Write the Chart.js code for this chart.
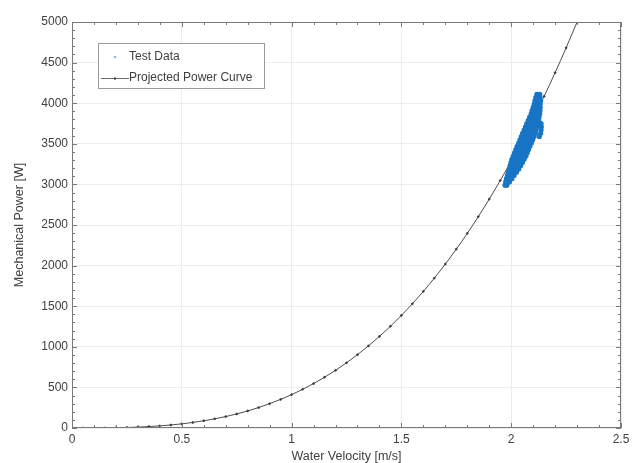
<!DOCTYPE html>
<html><head><meta charset="utf-8">
<script src="https://cdn.jsdelivr.net/npm/chart.js@4/dist/chart.umd.min.js"></script>
<style>html,body{margin:0;padding:0;background:#fff}</style>
</head><body>
<canvas id="c" width="634" height="463" style="display:block"></canvas>
<script>
// ---- data ----
const curveV = [0,0.05,0.1,0.15,0.2,0.25,0.3,0.35,0.4,0.45,0.5,0.55,0.6,0.65,0.7,0.75,0.8,0.85,0.9,0.95,1.0,1.05,1.1,1.15,1.2,1.25,1.3,1.35,1.4,1.45,1.5,1.55,1.6,1.65,1.7,1.75,1.8,1.85,1.9,1.95,2.0,2.05,2.1,2.15,2.2,2.25,2.3];
const curveP = [0,0,0,1,3,6,11,18,26,37,51,68,89,113,141,173,210,252,300,352,411,476,547,625,710,803,903,1011,1128,1253,1387,1530,1683,1846,2019,2203,2397,2602,2819,3047,3288,3541,3806,4085,4376,4682,5000];

const testV = [
 1.972,1.980,
 1.975,1.984,1.992,
 1.978,1.987,1.995,2.003,
 1.983,1.993,2.002,2.013,
 1.987,1.998,2.008,2.017,2.024,
 1.992,2.003,2.013,2.024,2.034,
 1.995,2.007,2.019,2.031,2.043,
 1.999,2.012,2.025,2.038,2.051,
 2.003,2.017,2.031,2.045,2.059,
 2.009,2.023,2.038,2.053,2.067,
 2.015,2.029,2.044,2.059,2.073,
 2.021,2.035,2.050,2.065,2.079,
 2.027,2.041,2.056,2.071,2.085,
 2.034,2.048,2.063,2.078,2.092,
 2.040,2.054,2.069,2.084,2.098,
 2.046,2.060,2.075,2.090,2.104,2.128,
 2.052,2.066,2.081,2.096,2.110,2.134,
 2.059,2.072,2.086,2.100,2.113,2.136,
 2.065,2.078,2.091,2.104,2.117,2.137,
 2.071,2.084,2.096,2.109,2.121,2.136,
 2.078,2.090,2.101,2.113,2.125,
 2.084,2.095,2.105,2.116,2.127,
 2.091,2.101,2.110,2.120,2.130,
 2.095,2.104,2.113,2.122,2.131,
 2.100,2.108,2.116,2.124,2.132,
 2.105,2.114,2.123,2.132,
 2.108,2.117,2.126,2.134,
 2.112,2.119,2.131,
 2.117,2.130
];
const testP = [
 2990,2990,
 3030,3030,3030,
 3070,3070,3070,3070,
 3110,3110,3110,3110,
 3150,3150,3150,3150,3150,
 3190,3190,3190,3190,3190,
 3230,3230,3230,3230,3230,
 3270,3270,3270,3270,3270,
 3310,3310,3310,3310,3310,
 3350,3350,3350,3350,3350,
 3390,3390,3390,3390,3390,
 3430,3430,3430,3430,3430,
 3470,3470,3470,3470,3470,
 3510,3510,3510,3510,3510,
 3550,3550,3550,3550,3550,
 3590,3590,3590,3590,3590,3590,
 3630,3630,3630,3630,3630,3630,
 3670,3670,3670,3670,3670,3670,
 3710,3710,3710,3710,3710,3710,
 3750,3750,3750,3750,3750,3750,
 3790,3790,3790,3790,3790,
 3830,3830,3830,3830,3830,
 3870,3870,3870,3870,3870,
 3910,3910,3910,3910,3910,
 3950,3950,3950,3950,3950,
 3990,3990,3990,3990,
 4030,4030,4030,4030,
 4070,4070,4070,
 4110,4110
];

const xTicks = [0,0.5,1,1.5,2,2.5];
const yTicks = [0,500,1000,1500,2000,2500,3000,3500,4000,4500,5000];
const xMinorStep = 0.1;
const yMinorStep = 100;
const legendLabels = ['Test Data','Projected Power Curve'];
const xTitle = 'Water Velocity [m/s]';
const yTitle = 'Mechanical Power [W]';

const FONT = 'Liberation Sans, Arial, sans-serif';
const TEXT = '#404040';
const AXIS = '#7a7a7a';
const GRID = '#ececec';
const BLUE = '#1874c4';

const boxTicks = {
  id:'boxTicks',
  afterDatasetsDraw(chart){
    const {ctx, chartArea:a, scales:{x,y}} = chart;
    ctx.save();
    ctx.strokeStyle = AXIS; ctx.lineWidth = 1;
    ctx.strokeRect(a.left+0.5, a.top+0.5, a.right-a.left-1, a.bottom-a.top-1);
    ctx.beginPath();
    for (let i=0; x.min + i*xMinorStep <= x.max + 1e-9; i++){
      const v = x.min + i*xMinorStep;
      const major = xTicks.some(t=>Math.abs(t-v)<1e-9);
      const L = major?5:3;
      const px = Math.round(x.getPixelForValue(v))+0.5;
      ctx.moveTo(px,a.bottom); ctx.lineTo(px,a.bottom-L);
      ctx.moveTo(px,a.top); ctx.lineTo(px,a.top+L);
    }
    for (let i=0; y.min + i*yMinorStep <= y.max + 1e-9; i++){
      const v = y.min + i*yMinorStep;
      const major = yTicks.some(t=>Math.abs(t-v)<1e-9);
      const L = major?5:3;
      const py = Math.round(y.getPixelForValue(v))+0.5;
      ctx.moveTo(a.left,py); ctx.lineTo(a.left+L,py);
      ctx.moveTo(a.right,py); ctx.lineTo(a.right-L,py);
    }
    ctx.stroke();
    ctx.restore();
  },
  afterDraw(chart){
    const {ctx, chartArea:a} = chart;
    ctx.save();
    const bx = a.left+26, by = a.top+21, bw = 166, bh = 45;
    ctx.fillStyle = '#fff'; ctx.fillRect(bx,by,bw,bh);
    ctx.strokeStyle = '#9a9a9a'; ctx.lineWidth = 1;
    ctx.strokeRect(bx+0.5,by+0.5,bw,bh);
    ctx.font = '12px ' + FONT; ctx.textBaseline = 'middle';
    ctx.fillStyle = '#8fb7e0';
    ctx.beginPath(); ctx.arc(bx+17, by+14, 1.3, 0, Math.PI*2); ctx.fill();
    ctx.fillStyle = TEXT;
    ctx.fillText(legendLabels[0], bx+31, by+14);
    ctx.strokeStyle = '#444'; ctx.lineWidth = 0.8;
    ctx.beginPath(); ctx.moveTo(bx+3, by+35.5); ctx.lineTo(bx+31, by+35.5); ctx.stroke();
    ctx.fillStyle = '#444';
    ctx.beginPath(); ctx.arc(bx+17, by+35.5, 1.2, 0, Math.PI*2); ctx.fill();
    ctx.fillStyle = TEXT;
    ctx.fillText(legendLabels[1], bx+31, by+35);
    ctx.restore();
  }
};

new Chart(document.getElementById('c'), {
  type:'scatter',
  data:{
    datasets:[
      {
        label: legendLabels[0],
        data: testV.map((v,i)=>({x:v,y:testP[i]})),
        backgroundColor: BLUE, borderWidth:0, pointRadius:2.6, pointHoverRadius:2.6, order:1
      },
      {
        label: legendLabels[1],
        type:'line',
        data: curveV.map((v,i)=>({x:v,y:curveP[i]})),
        borderColor:'#3a3a3a', borderWidth:0.9, backgroundColor:'#3a3a3a',
        pointRadius:0.9, pointHoverRadius:0.9, showLine:true, fill:false,
        cubicInterpolationMode:'monotone', order:2, clip:true
      }
    ]
  },
  options:{
    responsive:false, animation:false, devicePixelRatio:1,
    layout:{padding:{top:22,right:13,left:0,bottom:0}},
    plugins:{legend:{display:false}, tooltip:{enabled:false}},
    scales:{
      x:{
        type:'linear', min:0, max:2.5,
        afterBuildTicks(s){ s.ticks = xTicks.map(v=>({value:v})); },
        afterFit(s){ s.height = 35; },
        ticks:{ callback:v=>String(v), font:{family:FONT,size:12}, color:TEXT, padding:4, maxRotation:0 },
        grid:{ color:GRID, drawTicks:false, lineWidth:1 },
        border:{display:false},
        title:{display:true, text:xTitle, font:{family:FONT,size:12.5}, color:TEXT, padding:{top:0,bottom:-1}}
      },
      y:{
        type:'linear', min:0, max:5000,
        afterBuildTicks(s){ s.ticks = yTicks.map(v=>({value:v})); },
        afterFit(s){ s.width = 72; },
        ticks:{ callback:v=>String(v), font:{family:FONT,size:12}, color:TEXT, padding:4 },
        grid:{ color:GRID, drawTicks:false, lineWidth:1 },
        border:{display:false},
        title:{display:true, text:yTitle, font:{family:FONT,size:12.5}, color:TEXT, padding:{top:12,bottom:0}}
      }
    }
  },
  plugins:[boxTicks]
});
</script>
</body></html>
